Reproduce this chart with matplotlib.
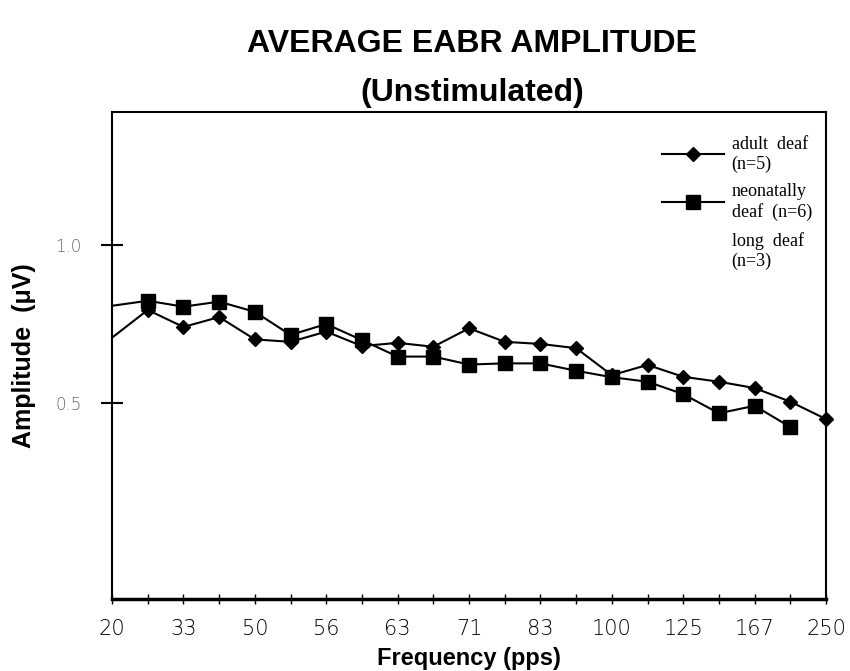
import matplotlib
matplotlib.use("Agg")
import matplotlib.pyplot as plt
from matplotlib.lines import Line2D

# frequency steps (pps); only every other one is labelled on the axis
freq_labels = ["20", "33", "50", "56", "63", "71", "83", "100", "125", "167", "250"]
n_steps = 21

# average EABR amplitude (uV)
adult_deaf = [0.666, 0.752, 0.698, 0.729, 0.661, 0.654, 0.684, 0.642, 0.651, 0.640,
              0.694, 0.654, 0.648, 0.636, 0.565, 0.591, 0.561, 0.549, 0.534, 0.503,
              0.466]
neonatal_deaf = [0.766, 0.783, 0.763, 0.780, 0.746, 0.674, 0.707, 0.659, 0.613, 0.613,
                 0.592, 0.595, 0.595, 0.576, 0.560, 0.549, 0.520, 0.478, 0.494, 0.450]

sans = ["Liberation Sans", "DejaVu Sans"]
serif = ["Liberation Serif", "DejaVu Serif"]

fig = plt.figure(figsize=(8.5, 6.71), dpi=100)
ax = fig.add_axes([0.1318, 0.1073, 0.84, 0.7258])

x_adult = list(range(len(adult_deaf)))
x_neo = list(range(len(neonatal_deaf)))
ax.plot(x_adult, adult_deaf, color="black", lw=1.5, marker="D", ms=7,
        markevery=list(range(1, len(adult_deaf))), clip_on=False, zorder=3)
ax.plot(x_neo, neonatal_deaf, color="black", lw=1.5, marker="s", ms=10,
        markevery=list(range(1, len(neonatal_deaf))), clip_on=False, zorder=3)

ax.set_yscale("log")
ax.set_ylim(0.2117, 1.792)
ax.set_xlim(0, n_steps - 1)

ax.set_yticks([0.5, 1.0])
ax.set_yticklabels(["0.5", "1.0"])
ax.yaxis.set_minor_locator(matplotlib.ticker.NullLocator())
ax.tick_params(axis="y", direction="inout", length=16, width=1.5, pad=14,
               labelsize=12, labelcolor="#666666")
for t in ax.get_yticklabels():
    t.set_family(["DejaVu Sans"])
    t.set_fontweight("light")

ax.set_xticks(range(n_steps))
ax.set_xticklabels([freq_labels[i // 2] if i % 2 == 0 else "" for i in range(n_steps)])
ax.tick_params(axis="x", direction="inout", length=7, width=1, pad=11, labelsize=15)
for t in ax.get_xticklabels():
    t.set_family(["DejaVu Sans"])
    t.set_fontweight("light")

for side in ["left", "top", "right"]:
    ax.spines[side].set_linewidth(1.5)
ax.spines["bottom"].set_linewidth(2.5)

ax.set_xlabel("Frequency (pps)", family=sans, fontweight="bold", fontsize=17, labelpad=6)
ax.set_ylabel("Amplitude  (\u03bcV)", family=sans, fontweight="bold", fontsize=18, labelpad=14)

handles = [
    Line2D([], [], color="black", lw=1.5, marker="D", ms=7),
    Line2D([], [], color="black", lw=1.5, marker="s", ms=10),
    Line2D([], [], linestyle="none"),
]
labels = ["adult  deaf\n(n=5)", "neonatally\ndeaf  (n=6)", "long  deaf\n(n=3)"]
ax.legend(handles, labels, loc="upper right", bbox_to_anchor=(1.003, 0.985),
          frameon=False, handlelength=3.4, handletextpad=0.45, labelspacing=0.6,
          prop={"family": serif, "size": 13})

fig.text(0.555, 0.935, "AVERAGE EABR AMPLITUDE", ha="center", va="center",
         family=sans, fontweight="bold", fontsize=23)
fig.text(0.555, 0.862, "(Unstimulated)", ha="center", va="center",
         family=sans, fontweight="bold", fontsize=23)

fig.savefig("out.png", dpi=100)
